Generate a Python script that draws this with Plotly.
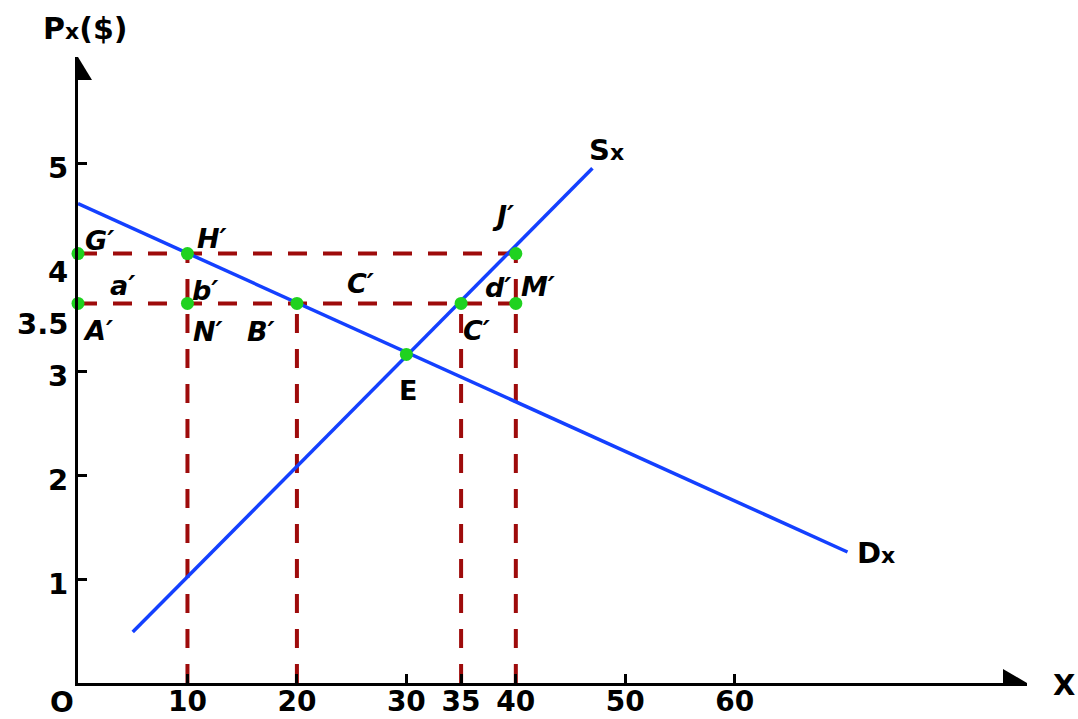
import plotly.graph_objects as go

# ---------------- data ----------------
x_ticks = [10, 20, 30, 35, 40, 50, 60]
x_tick_text = ["10", "20", "30", "35", "40", "50", "60"]
y_ticks = [1, 2, 3, 5]
y_label_vals = [1, 2, 3, 3.5, 4, 5]
y_label_text = ["1", "2", "3", "3.5", "4", "5"]

p_high = 4.13   # price line through G', H', J'
p_low = 3.65    # price line through A', N', B', C', M'

supply_x = [5.0, 47.0]
supply_y = [0.49, 4.95]
demand_x = [0.0, 70.3]
demand_y = [4.61, 1.26]

q_H, q_B, q_E, q_C, q_J = 10, 20, 30, 35, 40
p_E = 3.16

pt_names = ["G", "H", "J", "A", "N", "B", "C", "M", "E"]
pt_x = [0, q_H, q_J, 0, q_H, q_B, q_C, q_J, q_E]
pt_y = [p_high, p_high, p_high, p_low, p_low, p_low, p_low, p_low, p_E]

X_MAX = 86.7
Y_MAX = 6.02

FONT = "DejaVu Sans"
RED = "#9E0B0B"
BLUE = "#1440FF"
GREEN = "#1FD21F"

fig = go.Figure()

# dashed guide lines
seg_x, seg_y = [], []
for (x0, x1, y0, y1) in [
    (0, q_J, p_high, p_high),
    (0, q_J, p_low, p_low),
    (q_H, q_H, 0, p_high),
    (q_B, q_B, 0, p_low),
    (q_C, q_C, 0, p_low),
    (q_J, q_J, 0, p_high),
]:
    seg_x += [x0, x1, None]
    seg_y += [y0, y1, None]
fig.add_trace(go.Scatter(x=seg_x, y=seg_y, mode="lines",
                         line=dict(color=RED, width=4, dash="19px,16px"),
                         hoverinfo="skip", cliponaxis=False))

# supply & demand
fig.add_trace(go.Scatter(x=supply_x, y=supply_y, mode="lines",
                         line=dict(color=BLUE, width=3.5), cliponaxis=False))
fig.add_trace(go.Scatter(x=demand_x, y=demand_y, mode="lines",
                         line=dict(color=BLUE, width=3.5), cliponaxis=False))

# points
fig.add_trace(go.Scatter(x=pt_x, y=pt_y, mode="markers",
                         marker=dict(color=GREEN, size=13, line=dict(width=0)),
                         cliponaxis=False))

annotations = []
def lab(text, x, y, dx, dy, italic=True, size=27, xanchor="center"):
    annotations.append(dict(
        text=text, x=x, y=y, xref="x", yref="y", showarrow=False,
        xshift=dx, yshift=dy, xanchor=xanchor,
        font=dict(family=FONT, size=size, color="black", weight="bold",
                  style="italic" if italic else "normal")))

P = "′"
lab("G" + P, 0, p_high, 21, 13)
lab("H" + P, q_H, p_high, 25, 15)
lab("J" + P, q_J, p_high, -13, 38)
lab("a" + P, 0, p_low, 44, 18)
lab("b" + P, q_H, p_low, 18, 13)
lab("C" + P, 25.8, p_low, 0, 20)
lab("d" + P, q_J, p_low, -18, 16)
lab("M" + P, q_J, p_low, 22, 17)
lab("A" + P, 0, p_low, 20, -27)
lab("N" + P, q_H, p_low, 21, -28)
lab("B" + P, q_B, p_low, -36, -28)
lab("C" + P, q_C, p_low, 15, -27)
lab("E", q_E, p_E, 2, -36, italic=False)

SUB = "<span style='font-size:22px'>x</span>"
lab("S" + SUB, supply_x[1], supply_y[1], 14, 18, italic=False, size=29)
lab("D" + SUB, demand_x[1], demand_y[1], 29, -1, italic=False, size=29)

# axis texts
for v, t in zip(y_label_vals, y_label_text):
    lab(t, 0, v, -8, -5, italic=False, size=29, xanchor="right")
lab("O", 0, 0, -16, -19, italic=False, size=28)
lab("X", X_MAX, 0, 37, -2, italic=False, size=29)
lab("P" + SUB + "($)", 0, Y_MAX, 7, 29, italic=False, size=30)

shapes = [
    dict(type="path", xref="x", yref="y", xsizemode="pixel", ysizemode="pixel",
         xanchor=0, yanchor=Y_MAX, path="M-14,-23 L14,-23 L0,0 Z",
         fillcolor="black", line=dict(width=0)),
    dict(type="path", xref="x", yref="y", xsizemode="pixel", ysizemode="pixel",
         xanchor=X_MAX, yanchor=0, path="M-24,-14 L-24,14 L0,0 Z",
         fillcolor="black", line=dict(width=0)),
]

axis_common = dict(showgrid=False, zeroline=False, showline=True, linecolor="black",
                   linewidth=3, ticks="inside", ticklen=9, tickwidth=3, tickcolor="black",
                   fixedrange=True, automargin=False)

fig.update_layout(
    width=1078, height=719,
    margin=dict(l=78, r=51, t=57, b=36, pad=0),
    paper_bgcolor="white", plot_bgcolor="white",
    showlegend=False,
    xaxis=dict(range=[0, X_MAX], tickvals=x_ticks, ticktext=x_tick_text,
               ticklabelstandoff=-9,
               tickfont=dict(family=FONT, size=28, color="black", weight="bold"),
               **axis_common),
    yaxis=dict(range=[0, Y_MAX], tickvals=y_ticks, showticklabels=False, **axis_common),
    annotations=annotations,
    shapes=shapes,
)

fig.write_html("out.html", config={"displayModeBar": False},
               post_script="document.body.style.margin='0';")
